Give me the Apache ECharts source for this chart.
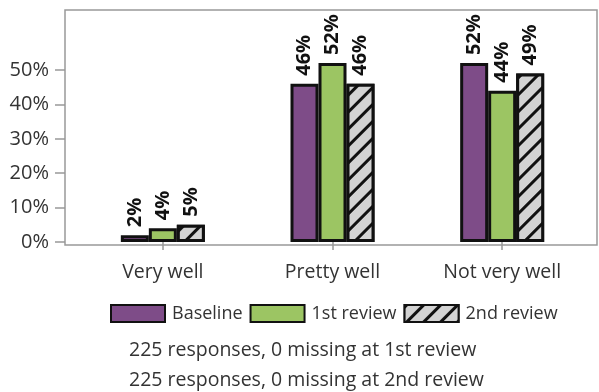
<!DOCTYPE html>
<html><head><meta charset="utf-8">
<script src="https://cdn.jsdelivr.net/npm/echarts@6/dist/echarts.min.js"></script>
<style>html,body{margin:0;padding:0;background:#fff}#c{width:599px;height:392px}</style>
</head><body><div id="c"></div>
<script>
const categories = ['Very well', 'Pretty well', 'Not very well'];
const baseline = [2, 46, 52];
const review1 = [4, 52, 44];
const review2 = [5, 46, 49];
const seriesNames = ['Baseline', '1st review', '2nd review'];
const yTicks = [0, 10, 20, 30, 40, 50];
const notes = ['225 responses, 0 missing at 1st review', '225 responses, 0 missing at 2nd review'];

const FONT = 'Open Sans';
const FS = 19.5;
const YMIN = -0.87, YMAX = 67.44;
const chart = echarts.init(document.getElementById('c'), null, {renderer: 'canvas'});
const label = {
  show: true, position: 'top', rotate: 90, distance: 8, align: 'left', verticalAlign: 'middle',
  formatter: p => p.value + '%', fontFamily: FONT, fontWeight: 'bold', fontSize: 20, color: '#111'
};
function mk(name, data, color, decal) {
  const s = {
    name, type: 'bar', data, xAxisIndex: 1, yAxisIndex: 1, barWidth: 28, barGap: '0%',
    itemStyle: {color, borderColor: '#111', borderWidth: 3},
    label, emphasis: {disabled: true}
  };
  if (decal) s.itemStyle.decal = decal;
  return s;
}
chart.setOption({
  animation: false,
  textStyle: {fontFamily: FONT},
  grid: [
    {left: 65, top: 10, right: 2, bottom: 147, show: true, borderColor: '#999', borderWidth: 1.5},
    {left: 78, top: 10, right: 12, bottom: 147}
  ],
  xAxis: [
    {gridIndex: 0, type: 'value', min: 0, max: 1, show: false},
    {gridIndex: 1, type: 'category', data: categories,
     axisLine: {show: false},
     axisTick: {show: true, alignWithLabel: true, length: 8, lineStyle: {color: '#999', width: 1.5}},
     axisLabel: {fontSize: FS, color: '#333', margin: 17, fontFamily: FONT}}
  ],
  yAxis: [
    {gridIndex: 0, type: 'value', min: YMIN, max: YMAX,
     axisLine: {show: false}, splitLine: {show: false},
     axisTick: {show: true, length: 10, customValues: yTicks, lineStyle: {color: '#999', width: 1.5}},
     axisLabel: {customValues: yTicks, formatter: v => v + '%', fontSize: 20, color: '#333', margin: 16, fontFamily: FONT}},
    {gridIndex: 1, type: 'value', min: YMIN, max: YMAX, show: false, splitLine: {show: false}}
  ],
  legend: {
    left: 110, top: 304, padding: 0, itemWidth: 54, itemHeight: 17, itemGap: 7, icon: 'rect',
    textStyle: {fontSize: 18, color: '#333', fontFamily: FONT, padding: [0, 0, 0, 2]},
    itemStyle: {borderWidth: 2},
    data: seriesNames
  },
  title: {
    left: 129, top: 335, padding: 0, text: notes.join('\n'),
    textStyle: {fontSize: FS, fontWeight: 'normal', color: '#333', lineHeight: 30, fontFamily: FONT}
  },
  series: [
    mk(seriesNames[0], baseline, '#7E4C88'),
    mk(seriesNames[1], review1, '#9CC563'),
    mk(seriesNames[2], review2, '#D3D3D3', {color: '#111', backgroundColor: '#D3D3D3', dashArrayX: [1, 0], dashArrayY: [2.5, 9], rotation: -Math.PI / 4, symbol: 'rect'})
  ]
});
</script></body></html>
